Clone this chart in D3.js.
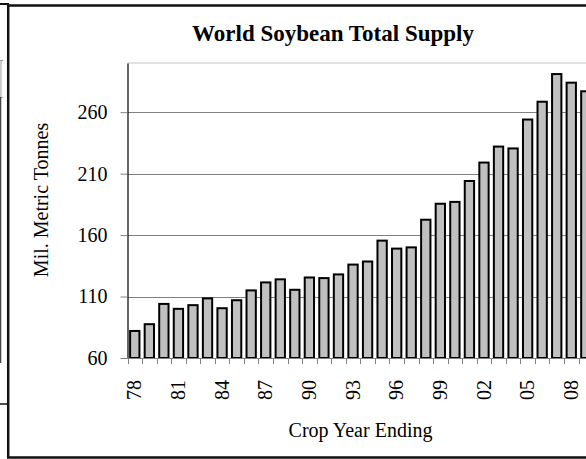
<!DOCTYPE html>
<html>
<head>
<meta charset="utf-8">
<script src="https://cdn.jsdelivr.net/npm/d3@7"></script>
<style>
  html, body { margin: 0; padding: 0; background: #fff; overflow: hidden; }
  svg { display: block; }
  text { font-family: "Liberation Serif", "Times New Roman", serif; fill: #000; }
</style>
</head>
<body>
<svg id="chart" width="586" height="459"></svg>
<script>
// ---- Data ----
const years = ["78","79","80","81","82","83","84","85","86","87","88","89","90","91","92","93","94","95","96","97","98","99","00","01","02","03","04","05","06","07","08","09"];
const supply = [82, 87.5, 104, 100, 103, 108.5, 100.5, 107, 115, 121.5, 124, 115.5, 125.5, 125, 128, 136, 138.5, 155.5, 149, 150, 172.5, 185.5, 187, 204, 219, 232, 230.5, 254, 268.5, 291, 284, 277];
const yTicks = [60, 110, 160, 210, 260];
const xTickLabels = ["78","81","84","87","90","93","96","99","02","05","08"];
const titleText = "World Soybean Total Supply";
const xTitle = "Crop Year Ending";
const yTitle = "Mil. Metric Tonnes";

const svg = d3.select("#chart");

// neighbouring chart fragments at the left edge (decoration)
const nb = svg.append("g");
nb.append("line").attr("x1", 0).attr("x2", 9).attr("y1", 4).attr("y2", 4).attr("stroke", "#111").attr("stroke-width", 2);
nb.append("line").attr("x1", 1).attr("x2", 1).attr("y1", 60).attr("y2", 363).attr("stroke", "#999").attr("stroke-width", 1);
nb.append("line").attr("x1", 0).attr("x2", 3).attr("y1", 60.5).attr("y2", 60.5).attr("stroke", "#999");
nb.append("line").attr("x1", 0).attr("x2", 3).attr("y1", 97.5).attr("y2", 97.5).attr("stroke", "#999");
nb.append("line").attr("x1", 0.5).attr("x2", 0.5).attr("y1", 97).attr("y2", 363).attr("stroke", "#444").attr("stroke-width", 1);
nb.append("line").attr("x1", 0).attr("x2", 8).attr("y1", 404).attr("y2", 404).attr("stroke", "#111").attr("stroke-width", 1.5);

// ---- Layout ----
const plotLeft = 127.5, plotTop = 63, plotBottom = 358;
const step = 14.55;
const plotRight = plotLeft + step * years.length;

const x = d3.scaleBand().domain(years).range([plotLeft, plotRight]).paddingInner(0.36).paddingOuter(0.18);
const y = d3.scaleLinear().domain([60, 300]).range([plotBottom, plotTop]);

// chart frame
svg.append("path")
  .attr("d", `M 600 5.5 L 8.2 5.5 L 8.2 457.5 L 600 457.5`)
  .attr("fill", "none").attr("stroke", "#111").attr("stroke-width", 2.5);

// plot area top border
svg.append("line").attr("x1", plotLeft).attr("x2", plotRight + 10).attr("y1", y(300)).attr("y2", y(300))
  .attr("stroke", "#d9d9d9").attr("stroke-width", 1.5);

// gridlines
svg.append("g").selectAll("line").data(yTicks.filter(d => d > 60)).join("line")
  .attr("x1", plotLeft).attr("x2", plotRight + 10)
  .attr("y1", d => Math.round(y(d)) + 0.5).attr("y2", d => Math.round(y(d)) + 0.5)
  .attr("stroke", "#808080").attr("stroke-width", 1);

// bars
svg.append("g").selectAll("rect").data(years).join("rect")
  .attr("x", d => x(d))
  .attr("width", x.bandwidth())
  .attr("y", (d, i) => y(supply[i]))
  .attr("height", (d, i) => y(60) - y(supply[i]))
  .attr("fill", "#c0c0c0").attr("stroke", "#000").attr("stroke-width", 2);

// y axis
const yAxis = d3.axisLeft(y).tickValues(yTicks).tickSizeInner(7).tickSizeOuter(0).tickPadding(13).tickFormat(d3.format("d"));
const gy = svg.append("g").attr("transform", `translate(${plotLeft},0)`).call(yAxis);
gy.select(".domain").attr("stroke", "#000").attr("stroke-width", 1.2);
gy.selectAll(".tick line").attr("stroke", "#808080");
gy.selectAll(".tick text").attr("font-size", 20).attr("font-family", "Liberation Serif, serif");

// x axis line
svg.append("line").attr("x1", plotLeft).attr("x2", plotRight + 10).attr("y1", plotBottom + 0.5).attr("y2", plotBottom + 0.5)
  .attr("stroke", "#808080").attr("stroke-width", 1);

// x ticks at category boundaries
const bounds = years.map(d => x(d) - x.step() * x.paddingInner() / 2);
bounds.push(plotRight);
svg.append("g").selectAll("line").data(bounds).join("line")
  .attr("x1", d => Math.round(d) + 0.5).attr("x2", d => Math.round(d) + 0.5)
  .attr("y1", plotBottom).attr("y2", plotBottom + 6)
  .attr("stroke", "#808080");

// x tick labels (rotated)
svg.append("g").selectAll("text").data(xTickLabels).join("text")
  .attr("transform", d => `translate(${x(d) + x.bandwidth() / 2},380) rotate(-90)`)
  .attr("text-anchor", "end").attr("dy", "0.33em")
  .attr("font-size", 20)
  .text(d => d);

// title
svg.append("text").attr("x", 333).attr("y", 40.5).attr("text-anchor", "middle")
  .attr("font-size", 23).attr("font-weight", "bold").text(titleText);

// axis titles
svg.append("text").attr("x", 360.5).attr("y", 436.5).attr("text-anchor", "middle")
  .attr("font-size", 20).text(xTitle);
svg.append("text").attr("transform", "translate(47.5,200) rotate(-90)").attr("text-anchor", "middle")
  .attr("font-size", 20).text(yTitle);
</script>
</body>
</html>
